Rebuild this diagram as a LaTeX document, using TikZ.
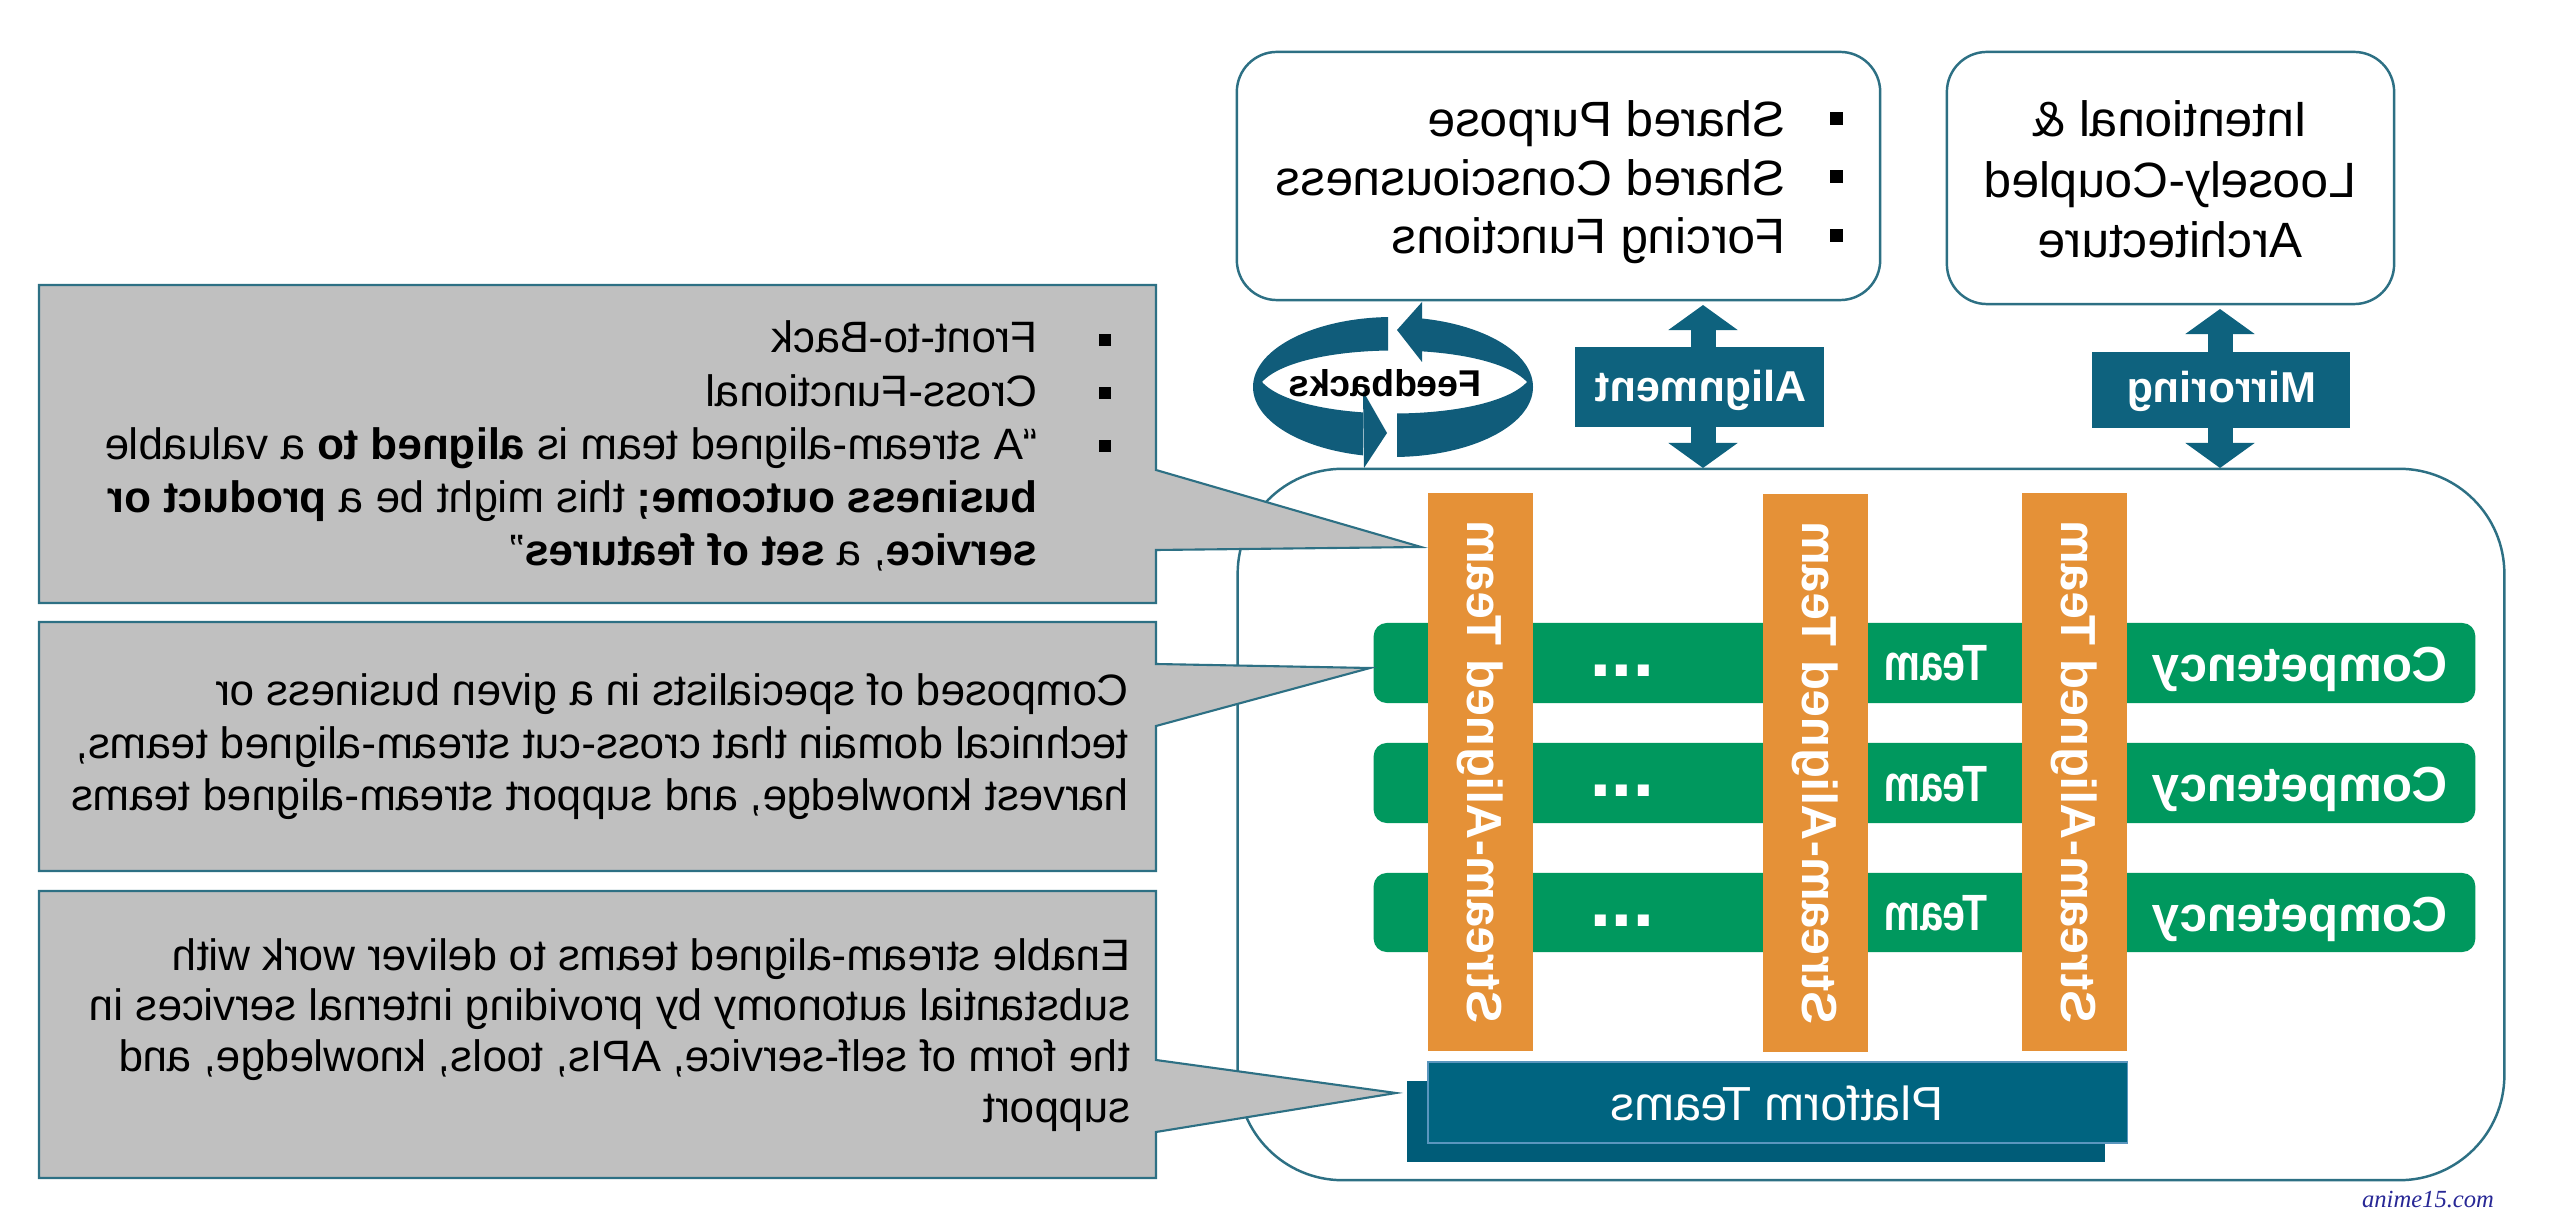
\documentclass[tikz,border=0pt]{standalone}
\usepackage{fontspec}
\setmainfont{Liberation Sans}
\newfontfamily\wmfont{Liberation Serif}
\usetikzlibrary{arrows.meta}
\definecolor{tealA}{RGB}{14,98,126}
\definecolor{ringA}{RGB}{16,92,122}
\definecolor{lineA}{RGB}{45,112,132}
\definecolor{greyA}{RGB}{192,192,192}
\definecolor{orangeA}{RGB}{229,145,55}
\definecolor{greenA}{RGB}{0,152,94}
\definecolor{platA}{RGB}{0,100,128}
\definecolor{platB}{RGB}{0,92,120}
\definecolor{platL}{RGB}{90,150,190}
\definecolor{wmA}{RGB}{40,40,150}
\newcommand\mir[2][1]{\scalebox{-#1}[1]{#2}}
\newcommand\sqb[3]{\rule[#3]{#1}{#2}}
\begin{document}
\begin{tikzpicture}[x=0.01cm,y=-0.01cm,
  txt/.style={inner sep=0pt,outer sep=0pt},
  roundbox/.style={draw=lineA,line width=0.7pt,fill=white,rounded corners=0.4cm,inner sep=0pt},
  gbar/.style={fill=greenA,rounded corners=0.13cm,minimum width=11.01cm,inner sep=0pt},
  strip/.style={fill=orangeA,minimum width=1.05cm,minimum height=5.58cm,inner sep=0pt},
  labelbox/.style={fill=tealA,inner sep=0pt},
  callout/.style={fill=greyA,draw=lineA,line width=0.6pt},
  dblarrow/.style={draw=tealA,line width=0.25cm,{Triangle[width=0.68cm,length=0.25cm]}-{Triangle[width=0.68cm,length=0.25cm]}},
  wtext/.style={txt,text=white}]
\useasboundingbox (0,0) rectangle (2560,1225);
\fill[white] (0,0) rectangle (2560,1225);

% big container
\node[draw=lineA,line width=0.7pt,rounded corners=1.05cm,minimum width=12.66cm,minimum height=7.11cm,inner sep=0pt] (big) at (1871,824.5) {};

% competency bars
\node[gbar,minimum height=0.80cm] (g1) at (1924.5,663) {};
\node[gbar,minimum height=0.80cm] (g2) at (1924.5,783) {};
\node[gbar,minimum height=0.79cm] (g3) at (1924.5,912.5) {};
\foreach \n/\c in {1/663,2/783,3/912.5}{
  \node[wtext,anchor=base] (comp\n) at (2300,\c+19) {\mir{\fontsize{14}{16}\selectfont\bfseries Competency}};
  \node[wtext,anchor=base] (team\n) at (1936,\c+18) {\mir[0.8]{\fontsize{14.5}{17}\selectfont\bfseries Team}};
  \node[wtext,anchor=base] (dots\n) at (1622,\c+14) {\mir{\fontsize{22}{24}\selectfont\bfseries ...}};
}

% stream-aligned strips
\node[strip] (s1) at (1480.5,772) {};
\node[strip] (s2) at (1815.5,773) {};
\node[strip] (s3) at (2074.5,772) {};
\foreach \s in {s1,s2,s3}{
  \node[wtext,rotate=-90] (\s t) at (\s.center) {\mir{\fontsize{14}{16}\selectfont\bfseries Stream-Aligned Team}};
}

% platform teams
\node[fill=platB,minimum width=6.98cm,minimum height=0.81cm,inner sep=0pt] (pb) at (1756,1121.5) {};
\node[fill=platA,draw=platL,line width=0.4pt,minimum width=6.99cm,minimum height=0.81cm,inner sep=0pt] (pf) at (1777.5,1102.5) {};
\node[wtext,anchor=base] (pft) at (1777,1120) {\mir{\fontsize{13.6}{16}\selectfont Platform Teams}};

% callouts
\draw[callout] (39,285) -- (1156,285) -- (1156,470) -- (1421,547) -- (1156,550) -- (1156,603) -- (39,603) -- cycle;
\draw[callout] (39,622) -- (1156,622) -- (1156,664) -- (1370,668) -- (1156,726) -- (1156,871) -- (39,871) -- cycle;
\draw[callout] (39,891) -- (1156,891) -- (1156,1060) -- (1396,1093) -- (1156,1132) -- (1156,1178) -- (39,1178) -- cycle;

\node[txt,anchor=base east] (c1) at (1111,353) {\mir{\fontsize{12.5}{15.1}\selectfont
  \begin{tabular}[t]{@{}l@{\hspace{17.4pt}}l@{}}
  \sqb{3.4pt}{3.4pt}{2pt} & Front-to-Back\\
  \sqb{3.4pt}{3.4pt}{2pt} & Cross-Functional\\
  \sqb{3.4pt}{3.4pt}{2pt} & “A stream-aligned team is \textbf{aligned to} a valuable\\
   & \textbf{business outcome;} this might be a \textbf{product or}\\
   & \textbf{service}, a \textbf{set of features}”
  \end{tabular}}};
\node[txt,anchor=base east] (c2) at (1129,706) {\mir{\fontsize{12.5}{14.9}\selectfont
  \begin{tabular}[t]{@{}l@{}}
  Composed of specialists in a given business or\\
  technical domain that cross-cut stream-aligned teams,\\
  harvest knowledge, and support stream-aligned teams
  \end{tabular}}};
\node[txt,anchor=base east] (c3) at (1130,970) {\mir{\fontsize{12.5}{14.5}\selectfont
  \begin{tabular}[t]{@{}l@{}}
  Enable stream-aligned teams to deliver work with\\
  substantial autonomy by providing internal services in\\
  the form of self-service, APIs, tools, knowledge, and\\
  support
  \end{tabular}}};

% top boxes
\node[roundbox,minimum width=6.43cm,minimum height=2.48cm] (tl) at (1558.5,176) {};
\node[roundbox,minimum width=4.47cm,minimum height=2.52cm] (tr) at (2170.5,178) {};
\node[txt,anchor=base east] (tlt) at (1842.5,137) {\mir{\fontsize{14.1}{16.6}\selectfont
  \begin{tabular}[t]{@{}l@{\hspace{12.4pt}}l@{}}
  \sqb{3.7pt}{3.7pt}{3.4pt} & Shared Purpose\\
  \sqb{3.7pt}{3.7pt}{3.4pt} & Shared Consciousness\\
  \sqb{3.7pt}{3.7pt}{3.4pt} & Forcing Functions
  \end{tabular}}};
\node[txt,anchor=base] (trt) at (2170,137) {\mir{\fontsize{14.1}{17.07}\selectfont
  \begin{tabular}[t]{@{}c@{}}
  Intentional \&\\ Loosely-Coupled\\ Architecture
  \end{tabular}}};

% alignment / mirroring double arrows
\coordinate (alT) at (1703,305);
\coordinate (alB) at (1703,468);
\coordinate (miT) at (2220,309);
\coordinate (miB) at (2220,468);
\draw[dblarrow] (alT) -- (alB);
\draw[dblarrow] (miT) -- (miB);
\node[labelbox,minimum width=2.49cm,minimum height=0.80cm] (al) at (1699.5,387) {};
\node[labelbox,minimum width=2.58cm,minimum height=0.76cm] (mi) at (2221,390) {};
\node[wtext,anchor=base] (alt) at (1701,402) {\mir{\fontsize{12.3}{14}\selectfont\bfseries Alignment}};
\node[wtext,anchor=base] (mit) at (2222,403) {\mir{\fontsize{12.3}{14}\selectfont\bfseries Mirroring}};

% feedback ring
\begin{scope}
  \clip (1240,290) rectangle (1388,386) (1422,290) rectangle (1550,386)
        (1240,386) rectangle (1363,480) (1397,386) rectangle (1550,480);
  \fill[ringA,even odd rule] (1393,387) ellipse [x radius=140,y radius=70]
     (1262,382) .. controls (1300,340) and (1488,340) .. (1527,382)
                .. controls (1488,424) and (1300,424) .. (1262,382) -- cycle;
\end{scope}
\fill[ringA] (1397,330) -- (1422,302) -- (1422,362) -- cycle;
\fill[ringA] (1387,433) -- (1363,391) -- (1364,468) -- cycle;
\node[txt,anchor=base] (fb) at (1385,397) {\mir{\fontsize{10.6}{12}\selectfont\bfseries Feedbacks}};

% watermark
\node[txt] (wm) at (2428,1200) {\wmfont\itshape\fontsize{7}{8}\selectfont\color{wmA} anime15.com};
\end{tikzpicture}
\end{document}
